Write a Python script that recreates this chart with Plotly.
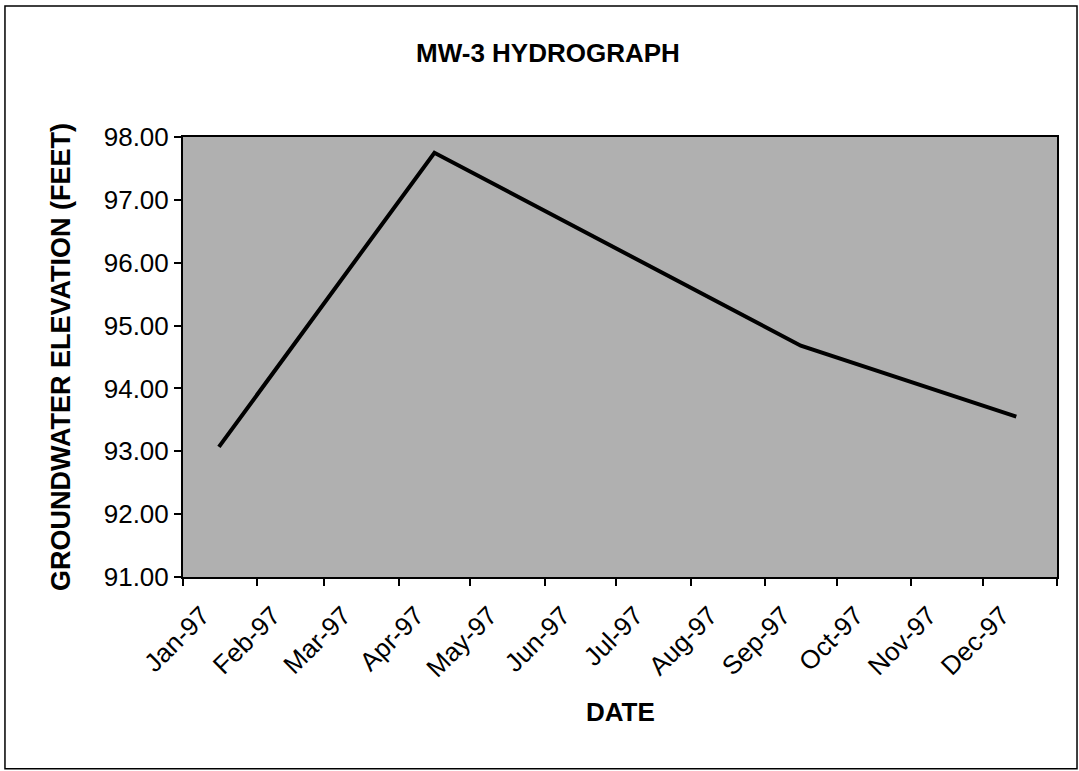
import plotly.graph_objects as go

# MW-3 groundwater elevations, 1997
dates = ["1997-01-16", "1997-04-16", "1997-09-16", "1997-12-15"]
elevations = [93.07, 97.75, 94.68, 93.55]

y_ticks = [91, 92, 93, 94, 95, 96, 97, 98]

FONT = "Liberation Sans, Arial, Helvetica, sans-serif"
W, H = 1079, 771

fig = go.Figure()
fig.add_trace(go.Scatter(
    x=dates,
    y=elevations,
    mode="lines",
    line=dict(color="black", width=4),
    showlegend=False,
))

fig.update_layout(
    width=W, height=H,
    margin=dict(l=183, r=22, t=137, b=194),
    paper_bgcolor="white",
    plot_bgcolor="#b0b0b0",
    font=dict(family=FONT, color="black"),
    title=dict(
        text="<b>MW-3 HYDROGRAPH</b>",
        font=dict(size=26, family=FONT, color="black"),
        xref="paper", x=0.4176, xanchor="center",
        yref="container", y=1 - 53 / H, yanchor="middle",
    ),
)

fig.update_xaxes(
    type="date",
    range=["1997-01-01", "1998-01-01"],
    tick0="1997-01-01", dtick="M1",
    tickformat="%b-%y",
    ticklabelmode="period",
    ticklabelshift=-18,
    ticklabelstandoff=4,
    tickangle=-45,
    ticks="outside", ticklen=7, tickwidth=1.5, tickcolor="black",
    tickfont=dict(size=26, family=FONT),
    showline=True, mirror=True, linecolor="black", linewidth=2,
    showgrid=False, zeroline=False,
)
fig.update_yaxes(
    range=[91, 98],
    tickvals=y_ticks,
    tickformat=".2f",
    ticks="outside", ticklen=7, tickwidth=1.5, tickcolor="black",
    tickfont=dict(size=26, family=FONT),
    showline=True, mirror=True, linecolor="black", linewidth=2,
    showgrid=False, zeroline=False,
)

# axis titles
fig.add_annotation(
    text="<b>GROUNDWATER ELEVATION (FEET)</b>",
    xref="paper", yref="paper", x=-0.1396, y=0.5,
    textangle=-90, showarrow=False,
    xanchor="center", yanchor="middle",
    font=dict(size=27, family=FONT, color="black"),
)
fig.add_annotation(
    text="<b>DATE</b>",
    xref="paper", yref="paper", x=0.5, y=-0.307,
    showarrow=False, xanchor="center", yanchor="middle",
    font=dict(size=26, family=FONT, color="black"),
)

# outer chart frame
fig.add_shape(
    type="rect", xref="paper", yref="paper",
    x0=-0.2037, x1=1.0229, y0=-0.436, y1=1.2977,
    line=dict(color="black", width=1.5),
    layer="below",
)

# drop the default 8px body margin so the figure fills the window
fig.write_html(
    "out.html",
    config={"displayModeBar": False},
    post_script="document.body.style.margin='0';",
)
